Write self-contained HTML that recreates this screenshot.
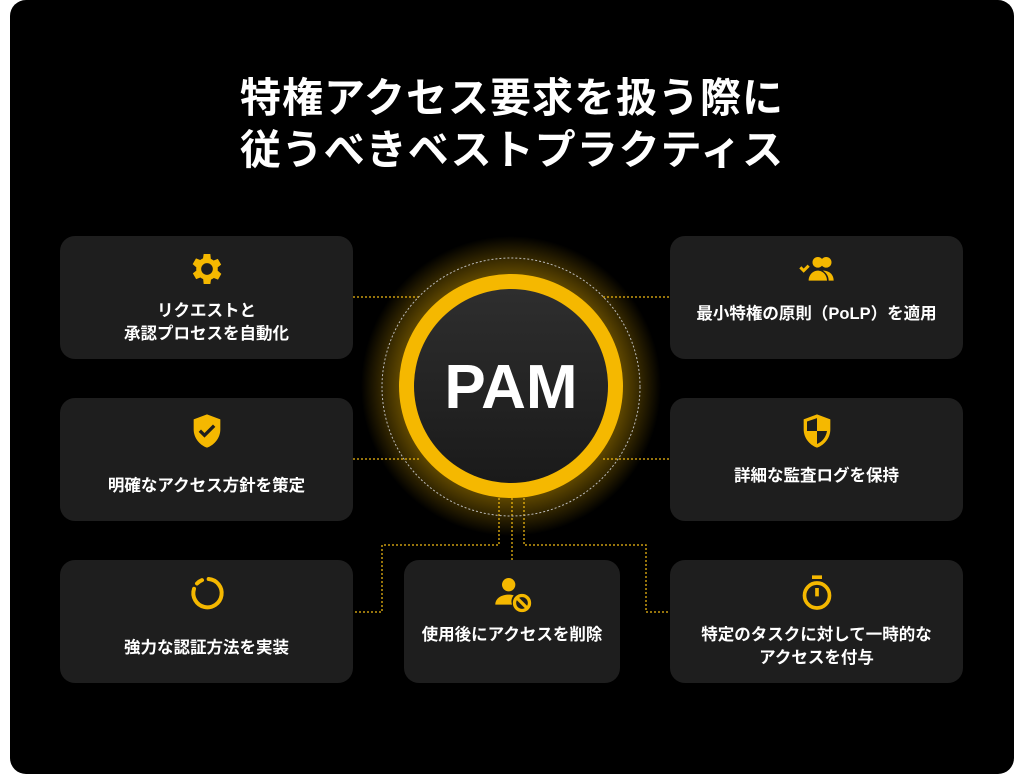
<!DOCTYPE html>
<html><head><meta charset="utf-8"><style>
html,body{margin:0;padding:0;background:#fff;width:1024px;height:777px;overflow:hidden}
body{font-family:"Liberation Sans","Noto Sans CJK JP",sans-serif;position:relative}
.bg{position:absolute;left:10px;top:0;width:1004px;height:774px;background:#000;border-radius:16px}
.title{position:absolute;left:0;width:1024px;top:72px;text-align:center;color:#fff;font-size:41px;font-weight:bold;line-height:52px;letter-spacing:1px}
.card{position:absolute;background:#1e1e1e;border-radius:15px;color:#fff;font-size:16.5px;font-weight:bold;text-align:center;line-height:23px}
.card svg{position:absolute;left:50%;top:13px;margin-left:-20px}
.card .t{position:absolute;left:0;right:0}
</style></head><body>
<div class="bg"></div>
<div class="title">特権アクセス要求を扱う際に<br>従うべきベストプラクティス</div>
<svg width="1024" height="777" style="position:absolute;left:0;top:0">
<defs><radialGradient id="g" cx="50%" cy="50%" r="50%"><stop offset="70%" stop-color="#f5b800" stop-opacity="0.45"/><stop offset="100%" stop-color="#f5b800" stop-opacity="0"/></radialGradient>
<linearGradient id="ig" x1="0" y1="0" x2="0" y2="1"><stop offset="0" stop-color="#2e2e2e"/><stop offset="1" stop-color="#1a1a1a"/></linearGradient></defs>
<g stroke="#c89a10" stroke-width="1.5" stroke-dasharray="2 2" fill="none">
<path d="M353 297H420M603 297H670M353 459H420M603 459H670"/>
<path d="M499 490V545H382V612H353"/><path d="M512 490V560"/><path d="M524 490V545H646V612H670"/>
</g>
<circle cx="511" cy="386" r="150" fill="url(#g)"/>
<circle cx="511" cy="387" r="129" fill="none" stroke="#bbb" stroke-width="1" stroke-dasharray="2 2"/>
<circle cx="511" cy="386" r="112" fill="#f5b800"/>
<circle cx="511" cy="386" r="97" fill="url(#ig)"/>
<text x="511" y="408" text-anchor="middle" fill="#fff" font-size="62" font-weight="bold" font-family="Liberation Sans,sans-serif">PAM</text>
</svg>
<div class="card" style="left:60px;top:236px;width:293px;height:123px">
<svg width="40" height="40" viewBox="0 0 24 24"><path fill="#f5b800" d="M19.4 13a7.5 7.5 0 000-2l2.1-1.6-2-3.5-2.5 1a7 7 0 00-1.7-1L15 3h-4l-.4 2.6a7 7 0 00-1.7 1l-2.5-1-2 3.5L6.6 11a7.5 7.5 0 000 2l-2.1 1.6 2 3.5 2.5-1a7 7 0 001.7 1L11 21h4l.4-2.6a7 7 0 001.7-1l2.5 1 2-3.5zM13 15.5a3.5 3.5 0 110-7 3.5 3.5 0 010 7z" transform="translate(-1 0)"/></svg>
<div class="t" style="top:64px">リクエストと<br>承認プロセスを自動化</div></div>
<div class="card" style="left:60px;top:398px;width:293px;height:123px">
<svg width="40" height="40" viewBox="0 0 24 24"><path fill="#f5b800" d="M12 2L4 5v6c0 5 3.4 9.3 8 11 4.6-1.7 8-6 8-11V5zm-1.5 14L7 12.5l1.4-1.4 2.1 2.1 5.1-5.1L17 9.5z"/></svg>
<div class="t" style="top:77px">明確なアクセス方針を策定</div></div>
<div class="card" style="left:60px;top:560px;width:293px;height:123px">
<svg width="40" height="40" viewBox="0 0 24 24"><path fill="none" stroke="#f5b800" stroke-width="2.4" stroke-linecap="round" d="M13 3.6A8.5 8.5 0 1 1 4.2 9.5"/><path fill="none" stroke="#f5b800" stroke-width="2.4" stroke-linecap="round" d="M6 6.3A8.5 8.5 0 0 1 9 4.3"/></svg>
<div class="t" style="top:77px">強力な認証方法を実装</div></div>
<div class="card" style="left:404px;top:560px;width:216px;height:123px">
<svg width="40" height="40" viewBox="0 0 24 24"><circle cx="10" cy="7" r="4" fill="#f5b800"/><path fill="#f5b800" d="M2 19c0-4 4-6 8-6 1 0 2 .1 3 .4A6 6 0 0012 19z"/><circle cx="18" cy="18" r="4.5" fill="none" stroke="#f5b800" stroke-width="2"/><path d="M15 15l6 6" stroke="#f5b800" stroke-width="2"/></svg>
<div class="t" style="top:64px">使用後にアクセスを削除</div></div>
<div class="card" style="left:670px;top:236px;width:293px;height:123px">
<svg width="40" height="40" viewBox="0 0 24 24"><circle cx="12.5" cy="8" r="3.2" fill="#f5b800"/><circle cx="17.5" cy="8" r="3.2" fill="#f5b800"/><path fill="#f5b800" d="M7 19c0-3.5 2.7-6 5.5-6s5.5 2.5 5.5 6zM15.5 13c3.5 0 6.5 2 6.5 6h-3c0-2.5-1.2-4.5-3.5-6z"/><path d="M2 11l2 2 3-3" stroke="#f5b800" stroke-width="1.8" fill="none"/></svg>
<div class="t" style="top:67px">最小特権の原則（PoLP）を適用</div></div>
<div class="card" style="left:670px;top:398px;width:293px;height:123px">
<svg width="40" height="40" viewBox="0 0 24 24"><path fill="#f5b800" d="M12 2L4 5v6c0 5 3.4 9.3 8 11 4.6-1.7 8-6 8-11V5z"/><path fill="#1e1e1e" d="M12 12h6c-.5 3.5-2.8 6.5-6 7.8zM12 4.3V12H6V6.3z"/></svg>
<div class="t" style="top:67px">詳細な監査ログを保持</div></div>
<div class="card" style="left:670px;top:560px;width:293px;height:123px">
<svg width="40" height="40" viewBox="0 0 24 24"><circle cx="12" cy="13.5" r="7.5" fill="none" stroke="#f5b800" stroke-width="2.2"/><path d="M9 2.5h6M12 9v5" stroke="#f5b800" stroke-width="2.2"/></svg>
<div class="t" style="top:64px">特定のタスクに対して一時的な<br>アクセスを付与</div></div>
</body></html>
